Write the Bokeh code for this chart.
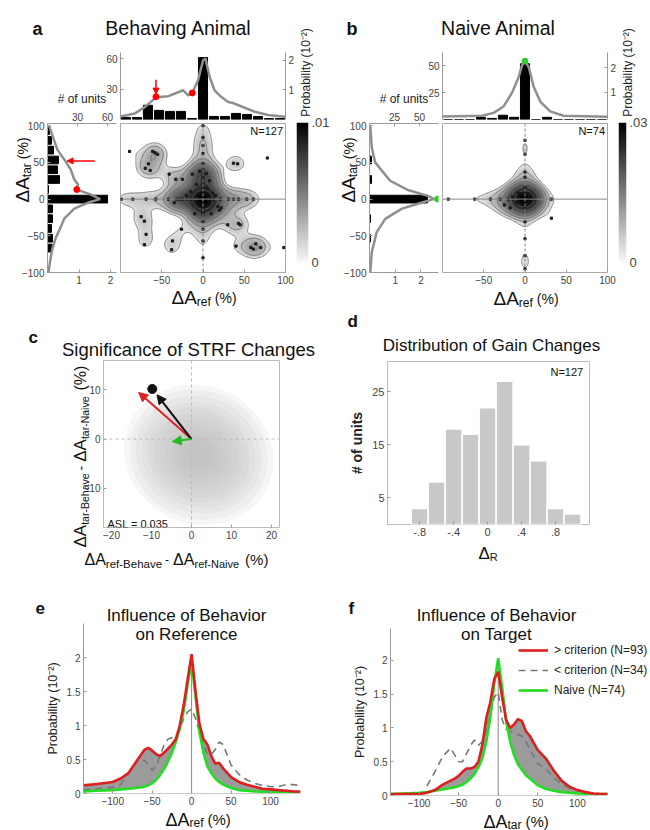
import numpy as np
from bokeh.plotting import figure
from bokeh.models import (Range1d, LinearAxis, FixedTicker, Label, Span, Arrow, NormalHead,
                          Legend, LegendItem, LogColorMapper)
from bokeh.embed import file_html
from bokeh.resources import INLINE

FONT = "Liberation Sans"
W, H = 650, 830

# ---------------- data ----------------
bin_centers = [-93.3, -80.0, -66.7, -53.3, -40.0, -26.7, -13.3, 0.0, 13.3, 26.7, 40.0, 53.3, 66.7, 80.0, 93.3]
a_ref_counts = [2, 2, 14, 9, 8, 8, 1, 61, 3, 3, 6, 5, 3, 1, 1]
a_tar_counts = [0, 0, 5, 5, 4, 5, 5, 60, 1, 12, 10, 11, 6, 4, 2]
b_ref_counts = [0, 0, 0, 2, 1, 4, 2, 52, 0, 2, 0, 0, 0, 0, 0]
b_tar_counts = [0, 0, 0, 1, 0, 1, 0, 58, 0, 2, 0, 2, 0, 0, 0]

a_ref_curve_x = [-100, -83, -71, -57, -42, -34, -24, -18, -13, -6, 0, 3, 8, 14, 22, 30, 38, 46, 63, 79, 100]
a_ref_curve_p = [0.1, 0.2, 0.41, 0.75, 0.79, 0.88, 0.99, 0.82, 0.9, 1.33, 2.0, 2.07, 1.45, 0.99, 0.77, 0.6, 0.54, 0.45, 0.26, 0.15, 0.09]
a_tar_curve_y = [-100, -80, -66.7, -53, -40, -26.7, -13, -5, 0, 6, 13, 20, 26.7, 40, 53, 66.7, 80, 100]
a_tar_curve_p = [0.03, 0.1, 0.16, 0.26, 0.4, 0.53, 0.85, 1.27, 1.67, 1.38, 0.93, 0.97, 0.85, 0.74, 0.55, 0.32, 0.21, 0.05]
a_marks_ref_x = [-57, -13]
a_marks_ref_p = [0.77, 0.9]
a_marks_tar_p = [0.93]
a_marks_tar_y = [13]

b_ref_curve_x = [-100, -52, -38, -26, -16, -7.6, -3.6, 0, 4.5, 10.5, 18.5, 30.5, 46.6, 100]
b_ref_curve_p = [0.02, 0.05, 0.17, 0.43, 0.97, 1.63, 2.1, 2.27, 2.03, 1.23, 0.63, 0.23, 0.05, 0.01]
b_tar_curve_y = [-100, -72, -45, -27, -13, -6, 0, 4, 12, 25, 50, 70, 100]
b_tar_curve_p = [0.03, 0.09, 0.28, 0.61, 1.26, 1.91, 2.49, 2.3, 1.52, 0.8, 0.22, 0.09, 0.03]

# joint (dA_ref, dA_tar) units, with multiplicity
a_pts_x = [0, 0, 0, 0, 0, 0, 0, 0, 0, 0, 0, 0, 0, 0, 0, 0, 0, 0, 0, 0, 0, 0,
           -99, -85, -69, -57, -42, -32, -28, -25, -20, -14, -8, 7, 13, 21, 31, 37, 43, 53, 61,
           -89, -58, -55, -61, -66, -70, -64, -41, -33, -25, -13, 37, 42, 78, -75, -71, -69, -71,
           -37, -38, -26, 20, 22, 18, 30, 43, 45, 40, 58, 61, 64, 70, 98, -8, 8, -10, 10, -15, 12,
           -4, 4, -20, -35, 15, 5]
a_pts_y = [0, 100, 84, 73, 62, 48, 40, 33, 30, 27, 20, 14, 7, -7, -12, -15, -18, -21, -30, -41, -57, -80,
           0, 0, 0, 0, 0, 0, 0, 0, 0, 0, 0, 0, 0, 0, 0, 0, 0, 0, 0,
           65, 63, 61, 65, 48, 42, 39, 34, 27, 27, 34, 49, 48, 56, -24, -30, -48, -62,
           -57, -69, -41, -15, -12, -10, -35, -33, -35, -64, -66, -68, -61, -66, -66, 20, 25, -20, -20, 10, 8,
           38, 35, 5, -5, 5, 15]
a_pts_w = [28, 1, 1, 1, 1, 1, 1, 4, 3, 2, 1, 1, 1, 1, 1, 4, 2, 1, 1, 1, 1, 1,
           1, 1, 1, 1, 1, 1, 4, 2, 1, 1, 1, 1, 1, 1, 1, 1, 1, 1, 1,
           1, 1, 1, 1, 1, 1, 1, 1, 1, 1, 1, 1, 1, 1, 1, 1, 1, 1,
           1, 1, 1, 1, 1, 1, 1, 1, 1, 1, 1, 1, 1, 1, 1, 1, 1, 1, 1, 1, 1,
           1, 1, 1, 1, 1, 1]

b_pts_x = [0, -93, -61, -42, -30, -20, -14, 10, 32, 0, 0, 0, 0, 0, 0, 0, 0, 0, 0, 0,
           32, -18, -25, -10, -8, 5, -15, 3]
b_pts_y = [0, 0, 0, 0, 0, 0, 0, 0, 0, 80, 61, 37, 30, 16, 8, -13, -31, -54, -77, -95,
           -26, -12, -8, -5, 8, 5, 3, -6]
b_pts_w = [47, 1, 1, 1, 1, 1, 1, 1, 1, 1, 1, 1, 1, 1, 1, 1, 1, 1, 1, 1,
           1, 1, 1, 1, 1, 1, 1, 1]

# panel c: bootstrap cloud drawn as nested translucent ellipses
c_cloud_w = [38, 35, 32, 29, 26, 23, 20, 17, 14, 11, 8, 5]
c_cloud_h = [28, 26, 23.5, 21, 19, 17, 14.5, 12.5, 10, 8, 6, 3.5]
c_cloud_center = (1.8, -3.2)
c_black_tip = (-8.6, 9.0)
c_black_dot = (-9.8, 10.2)
c_red_tip = (-13.2, 9.5)
c_green_tip = (-4.8, -0.5)

# panel d
gain_centers = [-0.8, -0.6, -0.4, -0.2, 0.0, 0.2, 0.4, 0.6, 0.8, 1.0]
gain_counts = [3, 8, 18, 17, 22, 27, 15, 12, 3, 2]
gain_tick_vals = [-0.8, -0.4, 0.0, 0.4, 0.8]
gain_tick_text = ["-.8", "-.4", "0", ".4", ".8"]

# panels e, f
dA_grid = [-137, -120, -100, -90, -80, -70, -60, -55, -50, -45, -40, -35, -30, -25, -20, -15, -10, -5,
           0, 5, 10, 15, 20, 25, 30, 35, 40, 50, 60, 70, 80, 90, 100, 110, 120, 130, 138]
e_red = [0.12, 0.14, 0.17, 0.22, 0.3, 0.47, 0.64, 0.67, 0.63, 0.58, 0.55, 0.6, 0.66, 0.72, 0.8, 1.0, 1.3, 1.68,
         2.05, 1.5, 1.02, 0.8, 0.72, 0.55, 0.44, 0.45, 0.37, 0.24, 0.17, 0.13, 0.1, 0.07, 0.06, 0.05, 0.04, 0.03, 0.03]
e_green = [0.03, 0.04, 0.05, 0.06, 0.07, 0.08, 0.1, 0.12, 0.15, 0.2, 0.27, 0.36, 0.47, 0.6, 0.76, 0.95, 1.22, 1.6,
           1.95, 1.42, 0.9, 0.6, 0.4, 0.3, 0.22, 0.17, 0.13, 0.08, 0.05, 0.04, 0.03, 0.025, 0.02, 0.02, 0.015, 0.01, 0.01]
e_dash = [0.05, 0.07, 0.09, 0.13, 0.3, 0.47, 0.49, 0.43, 0.34, 0.4, 0.55, 0.71, 0.8, 0.82, 0.82, 0.95, 1.1, 1.2,
          1.24, 1.1, 0.9, 0.72, 0.58, 0.57, 0.65, 0.76, 0.72, 0.42, 0.28, 0.2, 0.15, 0.12, 0.1, 0.1, 0.13, 0.13, 0.11]
f_red = [0.02, 0.02, 0.02, 0.04, 0.08, 0.16, 0.22, 0.25, 0.29, 0.35, 0.4, 0.4, 0.42, 0.5, 0.75, 1.15, 1.38, 1.72,
         1.83, 1.45, 1.12, 1.0, 1.05, 1.13, 1.1, 0.95, 0.88, 0.67, 0.55, 0.37, 0.22, 0.13, 0.08, 0.05, 0.03, 0.02, 0.02]
f_green = [0.02, 0.03, 0.04, 0.05, 0.07, 0.09, 0.11, 0.12, 0.14, 0.16, 0.2, 0.25, 0.32, 0.42, 0.55, 0.8, 1.15, 1.65,
           2.03, 1.6, 1.1, 0.8, 0.6, 0.46, 0.38, 0.3, 0.25, 0.15, 0.1, 0.07, 0.05, 0.04, 0.03, 0.025, 0.02, 0.02, 0.02]
f_dash = [np.nan, np.nan, np.nan, 0.14, 0.35, 0.58, 0.7, 0.6, 0.5, 0.5, 0.62, 0.74, 0.82, 0.74, 0.8, 0.95, 1.2, 1.45,
          1.53, 1.12, 0.98, 0.95, 0.92, 0.9, 0.88, 0.8, 0.68, 0.47, 0.4, 0.26, 0.17, 0.11, 0.07, 0.05, 0.03, 0.02, 0.02]
legend_labels = ["> criterion (N=93)", "< criterion (N=34)", "Naive (N=74)"]

# ---------------- helpers ----------------
CW = {" ": .278, "(": .333, ")": .333, "%": .889, "-": .333, ".": .278, "Δ": .668, "A": .667, "B": .667,
      "N": .722, "R": .722, "a": .556, "e": .556, "f": .278, "h": .556, "i": .222, "r": .333, "t": .278, "v": .5}


def tw(s, size):
    return sum(CW.get(ch, .556) for ch in s) * size


def mkfig(x0, x1, y0, y1, xr, yr, outline=None):
    p = figure(width=W, height=H, x_range=xr, y_range=yr, x_axis_location=None, y_axis_location=None,
               min_border_left=x0, min_border_right=W - x1, min_border_top=y0, min_border_bottom=H - y1,
               output_backend="svg", toolbar_location=None, margin=(-H, 0, 0, 0),
               styles={"margin-top": f"-{H}px"})
    p.background_fill_color = None
    p.border_fill_color = None
    p.outline_line_color = outline
    p.xgrid.visible = False
    p.ygrid.visible = False
    return p


def axis(p, side, ticks, labels=None, size=10, line=True, label=None, label_size=12,
         x_range_name=None, y_range_name=None, bold=False):
    kw = {}
    if x_range_name:
        kw["x_range_name"] = x_range_name
    if y_range_name:
        kw["y_range_name"] = y_range_name
    ax = LinearAxis(ticker=FixedTicker(ticks=ticks), **kw)
    if labels is not None:
        ax.major_label_overrides = {t: l for t, l in zip(ticks, labels)}
    ax.major_label_text_font = FONT
    ax.major_label_text_font_size = f"{size}px"
    ax.major_label_text_color = "#444444"
    ax.major_label_standoff = 3
    ax.axis_line_color = "#9a9a9a" if line else None
    ax.major_tick_line_color = "#9a9a9a"
    ax.major_tick_in = 3
    ax.major_tick_out = 0
    ax.minor_tick_line_color = None
    if label:
        ax.axis_label = label
        ax.axis_label_text_font = FONT
        ax.axis_label_text_font_size = f"{label_size}px"
        ax.axis_label_text_font_style = "bold" if bold else "normal"
        ax.axis_label_text_color = "#222222"
        ax.axis_label_standoff = 4
    p.add_layout(ax, side)
    return ax


def lab(p, x, y, text, size, align="left", baseline="alphabetic", angle=0.0, bold=False, color="#111111"):
    p.add_layout(Label(x=x, y=y, text=text, text_font=FONT, text_font_size=f"{size}px",
                       text_align=align, text_baseline=baseline, angle=angle,
                       text_font_style="bold" if bold else "normal", text_color=color))


def hpieces(p, x, y, pieces):
    for text, size, dy, gap in pieces:
        x += gap
        lab(p, x, y + dy, text, size)
        x += tw(text, size)


def vpieces(p, x, y, pieces):
    for text, size, dx, gap in pieces:
        y -= gap
        lab(p, x + dx, y, text, size, angle=np.pi / 2)
        y -= tw(text, size)


def kde(px, py, pw, gx, gy, h):
    X, Y = np.meshgrid(gx, gy)
    Z = np.zeros_like(X)
    for x0, y0, w0 in zip(px, py, pw):
        Z += w0 * np.exp(-((X - x0) ** 2 + (Y - y0) ** 2) / (2 * h * h))
    return Z


GREYS = ["#%02x%02x%02x" % (v, v, v) for v in np.linspace(226, 0, 256).astype(int)]
CBAR = ["#%02x%02x%02x" % (v, v, v) for v in np.linspace(248, 0, 256).astype(int)]
CLEAR = "#ffffff00"

# ---------------- page (text layer) ----------------
page = figure(width=W, height=H, x_range=Range1d(0, W), y_range=Range1d(H, 0), x_axis_location=None,
              y_axis_location=None, min_border=0, output_backend="svg", toolbar_location=None)
page.outline_line_color = None
page.xgrid.visible = False
page.ygrid.visible = False
page.background_fill_color = "white"
page.border_fill_color = "white"

lab(page, 32, 28, "a", 18, bold=True)
lab(page, 178, 27, "Behaving Animal", 19.5, align="center")
lab(page, 346, 28, "b", 18, bold=True)
lab(page, 498, 27, "Naive Animal", 19.5, align="center")
lab(page, 28, 337, "c", 17, bold=True)
lab(page, 188, 349, "Significance of STRF Changes", 18.5, align="center")
lab(page, 347, 321, "d", 17, bold=True)
lab(page, 491, 345, "Distribution of Gain Changes", 17, align="center")
lab(page, 35, 607, "e", 17, bold=True)
lab(page, 186, 615, "Influence of Behavior", 17, align="center")
lab(page, 186, 634, "on Reference", 17, align="center")
lab(page, 348, 608, "f", 17, bold=True)
lab(page, 496, 615, "Influence of Behavior", 17, align="center")
lab(page, 496, 634, "on Target", 17, align="center")
lab(page, 305, 72, "Probability (10⁻²)", 12, align="center", angle=np.pi / 2, color="#222222")
lab(page, 627, 72, "Probability (10⁻²)", 12, align="center", angle=np.pi / 2, color="#222222")

hpieces(page, 171, 297, [("ΔA", 19, 0, 0), ("ref", 12, 4, 0), ("(%)", 14, 0, 4)])
vpieces(page, 22, 202, [("ΔA", 19, 0, 0), ("tar", 12, 4, 0), ("(%)", 14, 0, 4)])
hpieces(page, 493, 298, [("ΔA", 19, 0, 0), ("ref", 12, 4, 0), ("(%)", 14, 0, 4)])
vpieces(page, 348, 202, [("ΔA", 19, 0, 0), ("tar", 12, 4, 0), ("(%)", 14, 0, 4)])
hpieces(page, 84, 559, [("ΔA", 16, 0, 0), ("ref-Behave", 11.5, 4, 0), ("-", 12, 0, 3), ("ΔA", 16, 0, 4),
                        ("ref-Naive", 11, 4, 0), ("(%)", 15, 0, 6)])
vpieces(page, 80, 547, [("ΔA", 17, 0, 0), ("tar-Behave", 10.5, 4, 0), ("-", 14, 0, 3), ("ΔA", 17, 0, 4),
                        ("tar-Naive", 10.5, 4, 0), ("(%)", 16, 0, 6)])
hpieces(page, 478, 553, [("Δ", 17, 0, 0), ("R", 11, 3, 0)])
hpieces(page, 165, 819, [("ΔA", 18, 0, 0), ("ref", 12, 3, 0), ("(%)", 15, 0, 4)])
hpieces(page, 483, 821, [("ΔA", 18, 0, 0), ("tar", 12, 3, 0), ("(%)", 15, 0, 4)])

figs = [page]


# ---------------- panels a and b ----------------
def joint_panel(xoff, ref_counts, tar_counts, ref_cx, ref_cp, tar_cy, tar_cp, pts_x, pts_y, pts_w,
                top_ticks, top_prob_range, top_count_range, left_ticks, left_prob_range, n_text, cbar_text):
    xr = Range1d(-100, 100)
    yr = Range1d(-100, 103)
    # top marginal
    t = mkfig(120 + xoff, 285 + xoff, 52, 119, xr, Range1d(*top_count_range))
    t.extra_y_ranges = {"prob": Range1d(*top_prob_range)}
    t.vbar(x=bin_centers, top=ref_counts, width=11, color="black")
    t.line(ref_cx, ref_cp, y_range_name="prob", line_color="#8f8f8f", line_width=2.5)
    axis(t, "left", top_ticks)
    axis(t, "right", [1, 2], y_range_name="prob")
    # left marginal
    l = mkfig(47 + xoff, 116 + xoff, 123, 272, Range1d(0, 69), yr)
    l.extra_x_ranges = {"prob": Range1d(*left_prob_range)}
    l.hbar(y=bin_centers, right=tar_counts, left=0, height=10.5, color="black")
    l.line(tar_cp, tar_cy, x_range_name="prob", line_color="#8f8f8f", line_width=2.5)
    axis(l, "left", [-100, -50, 0, 50, 100])
    axis(l, "above", left_ticks, label="# of units", label_size=12)
    axis(l, "below", [1, 2], x_range_name="prob")
    # joint density
    m = mkfig(120 + xoff, 285 + xoff, 123, 272, xr, yr, outline="#aaaaaa")
    gx = np.linspace(-100, 100, 201)
    gy = np.linspace(-100, 103, 204)
    Z = kde(pts_x, pts_y, pts_w, gx, gy, 10.5)
    low, high = 1.3, float(Z.max())
    mapper = LogColorMapper(palette=GREYS, low=low, high=high, low_color=CLEAR, nan_color=CLEAR)
    m.image(image=[Z], x=-100, y=-100, dw=200, dh=203, color_mapper=mapper)
    levels = list(low * (high / low) ** (np.arange(7) / 7.0))
    m.contour(x=gx, y=gy, z=Z, levels=levels, line_color="#666666", line_width=0.8)
    m.add_layout(Span(location=0, dimension="width", line_color="#888888", line_width=1))
    m.add_layout(Span(location=0, dimension="height", line_color="#888888", line_width=1, line_dash="3 2"))
    m.scatter(pts_x, pts_y, marker="square", size=2.2, color="#1a1a1a")
    axis(m, "below", [-50, 0, 50, 100], line=False)
    lab(m, 97, 92.5, n_text, 11, align="right", baseline="middle")
    # colour bar
    cb = mkfig(296 + xoff, 308 + xoff, 122, 262, Range1d(0, 1), Range1d(0, 1))
    cb.image(image=[np.linspace(0, 1, 256).reshape(256, 1)], x=0, y=0, dw=1, dh=1, palette=CBAR)
    cax = axis(cb, "right", [0, 1], labels=["0", cbar_text], size=13, line=False)
    cax.major_tick_line_color = None
    return t, l, m, cb


a_top, a_left, a_main, a_cb = joint_panel(0, a_ref_counts, a_tar_counts, a_ref_curve_x, a_ref_curve_p,
                                          a_tar_curve_y, a_tar_curve_p, a_pts_x, a_pts_y, a_pts_w,
                                          [30, 60], (0, 2.27), (0, 66), [30, 60], (0, 2.19), "N=127", ".01")
a_top.scatter(a_marks_ref_x, a_marks_ref_p, y_range_name="prob", size=6, color="red")
a_top.add_layout(Arrow(x_start=-57, y_start=1.35, x_end=-57, y_end=0.86, y_range_name="prob",
                       line_color="red", line_width=1.5,
                       end=NormalHead(size=6, fill_color="red", line_color="red")))
a_left.scatter(a_marks_tar_p, a_marks_tar_y, x_range_name="prob", size=6, color="red")
a_left.add_layout(Arrow(x_start=1.5, y_start=52, x_end=0.62, y_end=52, x_range_name="prob",
                        line_color="red", line_width=1.5,
                        end=NormalHead(size=6, fill_color="red", line_color="red")))

b_top, b_left, b_main, b_cb = joint_panel(322, b_ref_counts, b_tar_counts, b_ref_curve_x, b_ref_curve_p,
                                          b_tar_curve_y, b_tar_curve_p, b_pts_x, b_pts_y, b_pts_w,
                                          [25, 50], (-0.1, 2.62), (0, 62.5), [25, 50], (0, 2.68), "N=74", ".03")
b_top.scatter([0], [max(b_ref_curve_p)], y_range_name="prob", size=6, color="#33cc33")
b_left.scatter([max(b_tar_curve_p) + 0.15], [0], x_range_name="prob", size=6, color="#33cc33")

figs += [a_top, a_left, a_main, a_cb, b_top, b_left, b_main, b_cb]

# ---------------- panel c ----------------
c = mkfig(103, 279, 360, 527, Range1d(-22, 22), Range1d(-18, 16), outline="#bbbbbb")
n_layers = len(c_cloud_w)
c.ellipse(x=[c_cloud_center[0]] * n_layers, y=[c_cloud_center[1]] * n_layers, width=c_cloud_w,
          height=c_cloud_h, angle=-0.45, fill_color="#b8b8b8", fill_alpha=0.12, line_color=None)
c.add_layout(Span(location=0, dimension="width", line_color="#bbbbbb", line_dash="3 3", line_width=1))
c.add_layout(Span(location=0, dimension="height", line_color="#bbbbbb", line_dash="3 3", line_width=1))
for tip, col in [(c_red_tip, "#dd2222"), (c_black_tip, "#111111"), (c_green_tip, "#22bb22")]:
    c.add_layout(Arrow(x_start=0, y_start=0, x_end=tip[0], y_end=tip[1], line_color=col, line_width=2,
                       end=NormalHead(size=9, fill_color=col, line_color=col)))
c.scatter([c_black_dot[0]], [c_black_dot[1]], size=9, color="#111111")
lab(c, -21, -17.2, "ASL = 0.035", 11)
axis(c, "left", [-10, 0, 10], line=False)
axis(c, "below", [-20, -10, 0, 10, 20], line=False)
figs.append(c)

# ---------------- panel d ----------------
d = mkfig(387, 589, 361, 524, Range1d(-1.18, 1.2), Range1d(0, 30.7), outline="#bbbbbb")
d.vbar(x=gain_centers, top=gain_counts, width=0.2, fill_color="#c8c8c8", line_color="white", line_width=1.5)
axis(d, "left", [5, 15, 25], size=11, line=False, label="# of units", label_size=14, bold=True)
axis(d, "below", gain_tick_vals, labels=gain_tick_text, size=11, line=False)
lab(d, 1.126, 28.8, "N=127", 11, align="right", baseline="middle")
figs.append(d)


# ---------------- panels e, f ----------------
def dist_panel(x0, x1, y0, y1, xr, ytop, red, green, dash, legend=False):
    p = mkfig(x0, x1, y0, y1, Range1d(*xr), Range1d(0, ytop))
    g = np.array(green, dtype=float)
    r = np.array(red, dtype=float)
    p.varea(x=dA_grid, y1=g, y2=np.maximum(r, g), fill_color="#9b9b9b")
    p.segment(x0=[0], y0=[0], x1=[0], y1=[max(max(red), max(green))], line_color="#888888", line_width=1)
    rd = p.line(dA_grid, dash, line_color="#777777", line_width=1.6, line_dash="7 5")
    rg = p.line(dA_grid, green, line_color="#22dd22", line_width=2.6)
    rr = p.line(dA_grid, red, line_color="#dd1f1f", line_width=2.6)
    axis(p, "left", [0, 0.5, 1, 1.5, 2], labels=["0", "0.5", "1", "1.5", "2"], size=10,
         label="Probability (10⁻²)", label_size=12.5)
    bx = axis(p, "below", [-100, -50, 0, 50, 100], size=10)
    bx.axis_line_color = "#cccccc"
    bx.bounds = (dA_grid[0], dA_grid[-1])
    if legend:
        leg = Legend(items=[LegendItem(label=legend_labels[0], renderers=[rr]),
                            LegendItem(label=legend_labels[1], renderers=[rd]),
                            LegendItem(label=legend_labels[2], renderers=[rg])],
                     location=(128, 97))
        leg.label_text_font = FONT
        leg.label_text_font_size = "12px"
        leg.label_text_color = "#222222"
        leg.glyph_width = 30
        leg.glyph_height = 16
        leg.label_height = 16
        leg.spacing = 4
        leg.padding = 2
        leg.margin = 0
        leg.label_standoff = 6
        leg.border_line_color = None
        leg.background_fill_alpha = 0
        p.add_layout(leg)
    return p


e = dist_panel(83, 300, 623, 793, (-137, 138), 2.5, e_red, e_green, e_dash)
# frame of f reaches the page edge so that its legend is not clipped; scale unchanged (0.792 px per %)
f = dist_panel(390, 650, 628, 795, (-136, 192.3), 2.47, f_red, f_green, f_dash, legend=True)
figs += [e, f]

open("out.html", "w").write(file_html(figs, INLINE))
